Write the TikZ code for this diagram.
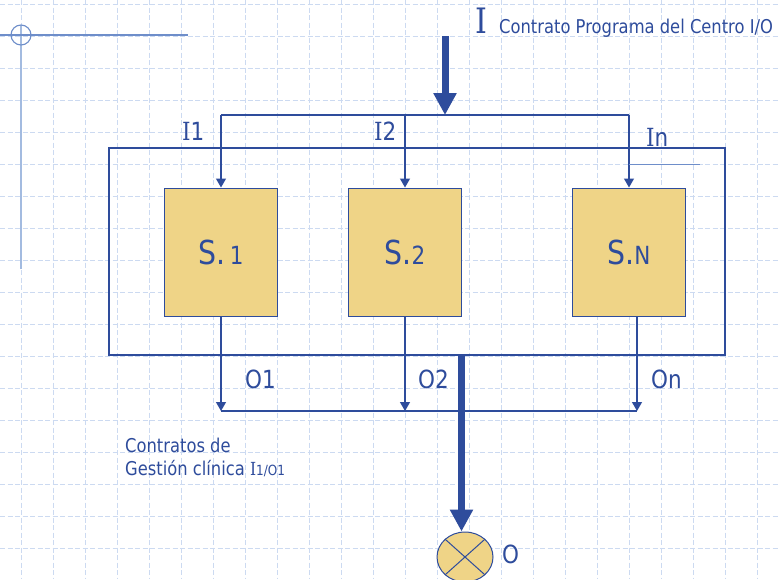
\documentclass[tikz,border=0pt]{standalone}
\usepackage{fontspec}
\setmainfont{DejaVu Sans}[FakeStretch=0.86]
\newfontfamily\capI{DejaVu Serif}[FakeStretch=0.86]
\usetikzlibrary{arrows.meta,shapes.geometric}
\definecolor{ink}{HTML}{2E4C9C}
\definecolor{gold}{HTML}{EFD487}
\definecolor{gridblue}{HTML}{CCDAF1}
\definecolor{guide}{HTML}{6E8ECA}
\definecolor{guidepale}{HTML}{A3BBE0}
\tikzset{
  gridline/.style={draw=gridblue, line width=0.9pt, dash pattern=on 5pt off 2.5pt},
  wire/.style={draw=ink, line width=1.2pt},
  flow/.style={wire, -{Triangle[width=10pt,length=9pt]}},
  bigflow/.style={draw=ink, line width=7pt, -{Triangle[width=22pt,length=22pt]}},
  sbox/.style={draw=ink, line width=1pt, fill=gold, minimum width=113pt,
    minimum height=128pt, inner sep=0pt, text=ink},
  lbl/.style={text=ink, inner sep=0pt, anchor=base west, font=\fontsize{25}{28}\selectfont},
  small/.style={text=ink, inner sep=0pt, anchor=base west, font=\fontsize{19}{22}\selectfont},
}
\newcommand{\boxlabel}[1]{{\fontsize{33}{36}\selectfont S.}{\fontsize{25}{28}\selectfont #1}}
\begin{document}
\begin{tikzpicture}[x=1pt,y=-1pt]
  \useasboundingbox (0,0) rectangle (778,579);
  \fill[white] (0,0) rectangle (778,579);
  % background grid
  \foreach \k in {0,...,23} \draw[gridline] (21.5+32*\k,0) -- (21.5+32*\k,579);
  \foreach \k in {0,...,18} \draw[gridline] (0,4+32*\k) -- (778,4+32*\k);
  % corner guide
  \draw[guidepale, line width=2pt] (21,25) -- (21,269);
  \draw[guide, line width=1.1pt] (0,35) -- (188,35);
  \draw[guide, line width=1.1pt] (21,35) circle (10);

  % outer frame
  \node[draw=ink, line width=1.2pt, minimum width=616pt, minimum height=207pt,
        inner sep=0pt] (frame) at (417,251.5) {};
  % subsystems
  \node[sbox] (s1) at (221,252) {\boxlabel{\,1}};
  \node[sbox] (s2) at (405,252) {\boxlabel{2}};
  \node[sbox] (sn) at (629,252) {\boxlabel{N}};

  % input distribution
  \coordinate (top) at (445,36);
  \coordinate (busin) at (445,115);
  \coordinate (busL) at (221,115);
  \coordinate (busM) at (405,115);
  \coordinate (busR) at (629,115);
  \draw[bigflow] (top) -- (busin);
  \draw[wire] (busL) -- (busR);
  \draw[flow] (busL) -- (s1.north);
  \draw[flow] (busM) -- (s2.north);
  \draw[flow] (busR) -- (sn.north);
  \coordinate (tickA) at (629,164);
  \coordinate (tickB) at (700,164);
  \draw[guide, line width=0.8pt] (tickA) -- (tickB);

  % output collection
  \coordinate (snout) at (637,316);
  \coordinate (o1) at (221,411);
  \coordinate (o2) at (405,411);
  \coordinate (on) at (637,411);
  \draw[flow] (s1.south) -- (o1);
  \draw[flow] (s2.south) -- (o2);
  \draw[flow] (snout) -- (on);
  \draw[wire] (o1) -- (on);

  % total output
  \node[ellipse, draw=ink, line width=1pt, fill=gold, minimum width=56pt,
        minimum height=50pt, inner sep=0pt] (out) at (465,557) {};
  \draw[ink, line width=1pt] (out.north west) -- (out.south east);
  \draw[ink, line width=1pt] (out.north east) -- (out.south west);
  \coordinate (frameout) at (461.5,355);
  \draw[bigflow] (frameout) -- (frameout |- out.north);

  % labels
  \node[text=ink, inner sep=0pt, anchor=base west, font=\capI\fontsize{35}{38}\selectfont] (bigI) at (475,33) {I};
  \node[small] (prog) at (499,33) {Contrato Programa del Centro I/O};
  \node[lbl] (li1) at (182,140) {{\capI I}1};
  \node[lbl] (li2) at (374,140) {{\capI I}2};
  \node[lbl] (lin) at (646,146) {{\capI I}n};
  \node[lbl] (lo1) at (245,388) {O1};
  \node[lbl] (lo2) at (418,388) {O2};
  \node[lbl] (lon) at (651,388) {On};
  \node[lbl] (lo) at (502,563) {O};
  \node[small] (gc1) at (125,452) {Contratos de};
  \node[small] (gc2) at (125,475) {Gestión clínica {\capI\fontsize{18}{20}\selectfont I}{\fontsize{14}{16}\selectfont 1/O1}};
\end{tikzpicture}
\end{document}
